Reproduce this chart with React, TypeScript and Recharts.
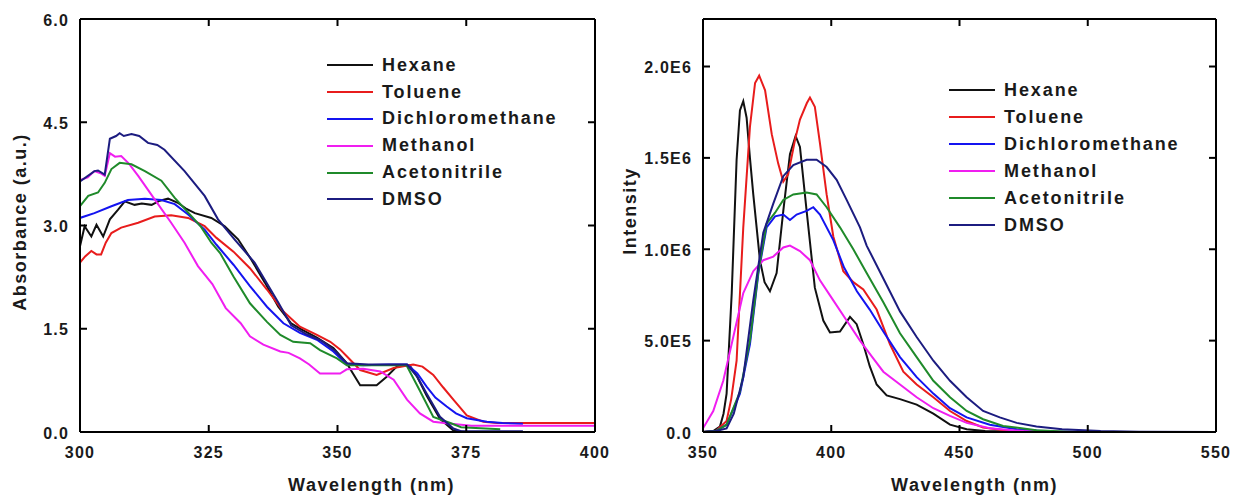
import React from 'react';
import { LineChart, Line, XAxis, YAxis, Legend } from 'recharts';

// solvent names + colours shared by both panels
const SOLVENTS = ['Hexane', 'Toluene', 'Dichloromethane', 'Methanol', 'Acetonitrile', 'DMSO'];
const COLORS = ['#111111', '#e81c1c', '#1414f0', '#f01ef0', '#1f8a2a', '#1c1c80'];

// absorbance panel: [wavelength nm, absorbance a.u.]
const absHexane = [[300, 2.7], [300.9, 2.99], [302.2, 2.84], [303.2, 3.01], [304.5, 2.84], [305.8, 3.09], [307.4, 3.23], [308.7, 3.35], [310.6, 3.3], [312, 3.32], [313.9, 3.3], [315.5, 3.36], [317.1, 3.39], [319, 3.33], [320.5, 3.25], [322.3, 3.18], [325.5, 3.11], [328.1, 2.99], [330.7, 2.8], [333.3, 2.5], [335.9, 2.17], [338.5, 1.82], [341, 1.58], [343, 1.49], [346, 1.37], [349.2, 1.22], [351.8, 1.0], [353, 0.85], [354.4, 0.68], [357.6, 0.68], [359.5, 0.8], [361.5, 0.95], [364, 0.97], [365.5, 0.8], [367.3, 0.53], [369.9, 0.19], [372.5, 0.02], [375, 0]];
const absToluene = [[300, 2.46], [301, 2.55], [302.2, 2.63], [303.2, 2.58], [304.1, 2.58], [305, 2.75], [306.1, 2.89], [308, 2.97], [311.3, 3.04], [314.5, 3.13], [317.7, 3.15], [321, 3.11], [324.2, 2.99], [326.5, 2.82], [329.8, 2.62], [333, 2.38], [336.3, 2.07], [339.5, 1.75], [342.7, 1.53], [346, 1.41], [348.6, 1.31], [350.5, 1.2], [351.8, 1.1], [354.4, 0.9], [357.6, 0.83], [360.9, 0.93], [364.7, 0.98], [366.5, 0.95], [368.6, 0.83], [370.5, 0.65], [372.5, 0.47], [375.1, 0.24], [378.3, 0.15], [381, 0.13], [400, 0.13]];
const absDCM = [[300, 3.11], [302.8, 3.18], [306.1, 3.28], [309.3, 3.37], [312.6, 3.39], [315.8, 3.37], [318.4, 3.31], [321, 3.16], [324.2, 2.94], [326.5, 2.72], [329.8, 2.43], [333, 2.12], [336.3, 1.82], [339.5, 1.58], [342.7, 1.44], [346, 1.34], [349.2, 1.17], [351.8, 0.98], [355, 0.97], [360, 0.98], [363.5, 0.98], [365.5, 0.85], [367.3, 0.66], [369, 0.5], [371.2, 0.37], [373, 0.27], [375.1, 0.2], [379, 0.15], [382, 0.13], [386, 0.12]];
const absMethanol = [[300, 3.66], [301.5, 3.7], [302.8, 3.79], [304, 3.76], [304.8, 3.72], [305.8, 4.05], [306.8, 4.0], [308, 4.01], [309.5, 3.9], [311.3, 3.72], [314.5, 3.38], [317.7, 3.04], [320.3, 2.75], [322.9, 2.41], [325.7, 2.15], [328.3, 1.8], [331.2, 1.58], [333, 1.39], [335.6, 1.27], [338.9, 1.17], [340.5, 1.15], [342.7, 1.07], [344.5, 0.98], [346.6, 0.85], [350.5, 0.85], [351.8, 0.91], [355, 0.92], [358.3, 0.88], [360.9, 0.76], [363.5, 0.47], [366, 0.27], [368.6, 0.15], [372, 0.12], [376, 0.09], [400, 0.09]];
const absAcetonitrile = [[300, 3.28], [301.6, 3.43], [303.5, 3.48], [304.8, 3.62], [306.1, 3.82], [307.7, 3.91], [310, 3.89], [312.6, 3.79], [315.8, 3.65], [318.4, 3.4], [321.6, 3.14], [323.5, 2.98], [325.5, 2.75], [327.2, 2.6], [329.8, 2.26], [333, 1.87], [336.3, 1.6], [338.9, 1.41], [341.4, 1.31], [344.7, 1.29], [346.6, 1.19], [349.9, 1.07], [351.8, 0.97], [356, 0.97], [363.4, 0.97], [366, 0.6], [368.6, 0.22], [371.9, 0.13], [374, 0.07], [381.6, 0.04]];
const absDMSO = [[300, 3.64], [302.8, 3.79], [303.5, 3.8], [304.8, 3.74], [305.8, 4.26], [307, 4.3], [307.7, 4.34], [308.5, 4.3], [310, 4.33], [311.5, 4.3], [313.2, 4.2], [315, 4.17], [316.4, 4.1], [320.3, 3.79], [324.2, 3.43], [326.8, 3.09], [330, 2.8], [333.9, 2.46], [338.5, 1.88], [341, 1.55], [344, 1.42], [347, 1.32], [349.5, 1.18], [351.8, 1.0], [356, 0.98], [363.5, 0.98], [365.5, 0.8], [367.3, 0.56], [369.9, 0.22], [372.5, 0.05], [374, 0.01], [386, 0.01]];

// emission panel: [wavelength nm, intensity in 1E6 counts]
const emHexane = [[350, 0], [354, 0.005], [356.6, 0.03], [358, 0.1], [359.2, 0.21], [361.2, 0.76], [363.1, 1.49], [364.4, 1.76], [365.7, 1.81], [367, 1.72], [368.3, 1.5], [369.6, 1.3], [372.2, 0.94], [374, 0.82], [376.1, 0.77], [378.7, 0.87], [381.3, 1.21], [383.9, 1.52], [386.1, 1.62], [387.8, 1.56], [390.4, 1.21], [393.6, 0.79], [396.9, 0.61], [399.5, 0.545], [403.4, 0.55], [407.3, 0.63], [409.9, 0.59], [412.5, 0.48], [415, 0.36], [417.7, 0.26], [421.6, 0.2], [426.8, 0.18], [433.3, 0.15], [439.8, 0.1], [446.3, 0.04], [452.8, 0.015], [460, 0.005], [480, 0]];
const emToluene = [[350, 0], [355, 0.005], [359.2, 0.06], [361, 0.18], [363.1, 0.39], [365.7, 1.12], [368.3, 1.67], [370.3, 1.91], [371.9, 1.95], [374.2, 1.87], [376.8, 1.63], [379.3, 1.47], [381.3, 1.37], [383.2, 1.41], [385.9, 1.6], [387.8, 1.71], [390.5, 1.8], [391.7, 1.83], [393.6, 1.78], [395.6, 1.58], [398.2, 1.3], [400.8, 1.07], [404.7, 0.88], [408.6, 0.82], [412.5, 0.78], [417.7, 0.67], [422.9, 0.48], [428.1, 0.33], [433.3, 0.26], [439.8, 0.19], [446.3, 0.115], [452.8, 0.06], [459.2, 0.025], [470, 0.005], [490, 0]];
const emDCM = [[350, 0], [355, 0.005], [359.2, 0.04], [364.4, 0.21], [368.3, 0.48], [371.6, 0.87], [374.8, 1.12], [378.1, 1.18], [381.3, 1.19], [383.9, 1.16], [386.5, 1.19], [390.4, 1.21], [393, 1.23], [395.6, 1.19], [400.8, 1.05], [405, 0.9], [410, 0.77], [415, 0.67], [420.3, 0.55], [426.8, 0.41], [433.3, 0.3], [439.8, 0.21], [446.3, 0.13], [452.8, 0.08], [461.8, 0.04], [472.3, 0.015], [485, 0.003], [500, 0]];
const emMethanol = [[350, 0.02], [354, 0.115], [357.9, 0.28], [361.8, 0.52], [365.7, 0.76], [369.6, 0.88], [373.5, 0.94], [377.4, 0.96], [381.3, 1.01], [383.9, 1.02], [387.8, 0.99], [391.7, 0.94], [395.6, 0.83], [400.8, 0.72], [406, 0.61], [411.2, 0.5], [416, 0.41], [420.3, 0.33], [426.8, 0.26], [433.3, 0.19], [439.8, 0.13], [446.3, 0.088], [452.8, 0.05], [461.8, 0.02], [475, 0.005], [490, 0]];
const emAcetonitrile = [[350, 0], [355, 0.005], [359.2, 0.04], [364.4, 0.22], [368.3, 0.5], [371.6, 0.88], [374.8, 1.14], [378.1, 1.2], [381.3, 1.27], [385.2, 1.3], [390.4, 1.31], [394.3, 1.3], [398.2, 1.23], [403.4, 1.12], [408.6, 1.0], [413.8, 0.87], [420.3, 0.71], [426.8, 0.54], [433.3, 0.41], [439.8, 0.28], [446.3, 0.19], [452.8, 0.115], [459.2, 0.07], [467, 0.033], [480, 0.01], [495, 0]];
const emDMSO = [[350, 0], [355, 0.005], [359.2, 0.02], [362, 0.1], [365.7, 0.3], [369.6, 0.72], [373.5, 1.09], [377.4, 1.25], [381.3, 1.4], [385.2, 1.46], [390.4, 1.49], [394.3, 1.49], [398.2, 1.45], [402.1, 1.38], [406, 1.27], [411.2, 1.12], [413.8, 1.02], [420.3, 0.84], [426.8, 0.66], [433.3, 0.52], [439.8, 0.39], [446.3, 0.28], [452.8, 0.19], [459.2, 0.115], [465.7, 0.08], [472.3, 0.05], [480, 0.03], [490, 0.015], [505, 0.005], [520, 0.002], [550, 0]];

const ABS_X_TICKS = [300, 325, 350, 375, 400];
const ABS_Y_TICKS = [0, 1.5, 3, 4.5, 6];
const EM_X_TICKS = [350, 400, 450, 500, 550];
const EM_Y_TICKS = [0, 0.5, 1, 1.5, 2];

const absSeries = [absHexane, absToluene, absDCM, absMethanol, absAcetonitrile, absDMSO];
const emSeries = [emHexane, emToluene, emDCM, emMethanol, emAcetonitrile, emDMSO];

const FONT = '"Liberation Sans", Arial, Helvetica, sans-serif';
const TXT = { fontFamily: FONT, fontWeight: 700, fill: '#1a1a1a' };

const toPts = (arr: number[][]) => arr.map(([x, y]) => ({ x, y }));

const fmtAbs = (v: number) => v.toFixed(1);
const fmtEm = (v: number) => {
  if (v === 0) return '0.0';
  if (v < 1) return `${(v * 10).toFixed(1)}E5`;
  return `${v.toFixed(1)}E6`;
};

const TL = 7; // inward tick length

// tick renderers: tickSize/tickMargin = 0 so x,y sit right on the axis line
const makeTick = (side: string, domain: number[], fmt?: (v: number) => string) => (props: any) => {
  const { x, y, payload } = props;
  const v = payload.value;
  const edge = v === domain[0] || v === domain[1];
  let line = null;
  let label = null;
  if (side === 'bottom') {
    if (!edge) line = <line x1={x} y1={y} x2={x} y2={y - TL} stroke="#000" strokeWidth={2} />;
    label = <text x={x} y={y + 20} textAnchor="middle" dominantBaseline="central" fontSize={16} letterSpacing={1.2} {...TXT}>{fmt ? fmt(v) : v}</text>;
  } else if (side === 'top') {
    if (!edge) line = <line x1={x} y1={y} x2={x} y2={y + TL} stroke="#000" strokeWidth={2} />;
  } else if (side === 'left') {
    if (!edge) line = <line x1={x} y1={y} x2={x + TL} y2={y} stroke="#000" strokeWidth={2} />;
    label = <text x={x - 11} y={y + 1} textAnchor="end" dominantBaseline="central" fontSize={16} letterSpacing={1.2} {...TXT}>{fmt ? fmt(v) : v}</text>;
  } else {
    if (!edge) line = <line x1={x} y1={y} x2={x - TL} y2={y} stroke="#000" strokeWidth={2} />;
  }
  return <g>{line}{label}</g>;
};

const xTitle = (text: string, dx: number) => (props: any) => {
  const { x, width } = props.viewBox;
  return <text x={x + width / 2 + dx} y={485} textAnchor="middle" dominantBaseline="central" fontSize={18} letterSpacing={1.5} {...TXT}>{text}</text>;
};

const yTitle = (text: string, cx: number, cy: number) => () => (
  <text transform={`translate(${cx},${cy}) rotate(-90)`} textAnchor="middle" dominantBaseline="central" fontSize={18} letterSpacing={1.5} {...TXT}>{text}</text>
);

const LegendBox = ({ rowH }: { rowH: number }) => (
  <div style={{ fontFamily: FONT, fontWeight: 700, fontSize: 18, letterSpacing: 1.9, color: '#1a1a1a' }}>
    {SOLVENTS.map((name, i) => (
      <div key={name} style={{ display: 'flex', alignItems: 'center', height: rowH, whiteSpace: 'nowrap' }}>
        <span style={{ display: 'inline-block', width: 46, borderTop: `2.5px solid ${COLORS[i]}`, marginRight: 9 }} />
        <span>{name}</span>
      </div>
    ))}
  </div>
);

interface PanelProps {
  width: number;
  margin: { top: number; right: number; bottom: number; left: number };
  yWidth: number;
  series: number[][][];
  xDomain: number[];
  yDomain: number[];
  xTicks: number[];
  yTicks: number[];
  yFmt: (v: number) => string;
  xTitleDx: number;
  yLabel: string;
  yLabelX: number;
  yLabelY: number;
  legendPos: { left: number; top: number };
  rowH: number;
}

// mirror axes (top/right) get a 1px box because zero-sized axes aren't drawn
const Panel = (p: PanelProps) => (
  <LineChart width={p.width} height={495} margin={p.margin}>
    <XAxis xAxisId="b" dataKey="x" type="number" domain={p.xDomain} ticks={p.xTicks} allowDataOverflow interval={0}
      height={63} tickSize={0} tickMargin={0} axisLine={{ stroke: '#000', strokeWidth: 2 }} tickLine={false}
      tick={makeTick('bottom', p.xDomain)} label={{ content: xTitle('Wavelength (nm)', p.xTitleDx) }} />
    <XAxis xAxisId="t" dataKey="x" type="number" domain={p.xDomain} ticks={p.xTicks} allowDataOverflow interval={0}
      orientation="top" height={1} tickSize={0} tickMargin={0} axisLine={{ stroke: '#000', strokeWidth: 2 }} tickLine={false}
      tick={makeTick('top', p.xDomain)} />
    <YAxis yAxisId="l" type="number" domain={p.yDomain} ticks={p.yTicks} allowDataOverflow interval={0}
      width={p.yWidth} tickSize={0} tickMargin={0} axisLine={{ stroke: '#000', strokeWidth: 2 }} tickLine={false}
      tick={makeTick('left', p.yDomain, p.yFmt)} label={{ content: yTitle(p.yLabel, p.yLabelX, p.yLabelY) }} />
    <YAxis yAxisId="r" type="number" domain={p.yDomain} ticks={p.yTicks} allowDataOverflow interval={0}
      orientation="right" width={1} tickSize={0} tickMargin={0} axisLine={{ stroke: '#000', strokeWidth: 2 }} tickLine={false}
      tick={makeTick('right', p.yDomain)} />
    <Legend layout="vertical" align="center" verticalAlign="middle"
      wrapperStyle={{ left: p.legendPos.left, top: p.legendPos.top, width: 'auto', height: 'auto' }}
      content={() => <LegendBox rowH={p.rowH} />} />
    {p.series.map((s, i) => (
      <Line key={SOLVENTS[i]} xAxisId="b" yAxisId="l" data={toPts(s)} dataKey="y" name={SOLVENTS[i]}
        type="linear" stroke={COLORS[i]} strokeWidth={2} dot={false} activeDot={false} isAnimationActive={false} />
    ))}
  </LineChart>
);

export default function App() {
  return (
    <div style={{ position: 'absolute', left: 0, top: 0, width: 1235, height: 495, background: '#fff' }}>
      <div style={{ position: 'absolute', left: 0, top: 0 }}>
        <Panel width={615} margin={{ top: 18, right: 19, bottom: 0, left: 0 }} yWidth={80}
          series={absSeries} xDomain={[300, 400]} yDomain={[0, 6]} xTicks={ABS_X_TICKS} yTicks={ABS_Y_TICKS}
          yFmt={fmtAbs} xTitleDx={34} yLabel="Absorbance (a.u.)" yLabelX={20} yLabelY={222}
          legendPos={{ left: 327, top: 52 }} rowH={26.8} />
      </div>
      <div style={{ position: 'absolute', left: 615, top: 0 }}>
        <Panel width={620} margin={{ top: 18, right: 18, bottom: 0, left: 0 }} yWidth={88}
          series={emSeries} xDomain={[350, 550]} yDomain={[0, 2.26]} xTicks={EM_X_TICKS} yTicks={EM_Y_TICKS}
          yFmt={fmtEm} xTitleDx={15} yLabel="Intensity" yLabelX={15} yLabelY={211}
          legendPos={{ left: 334, top: 76.5 }} rowH={27} />
      </div>
    </div>
  );
}
